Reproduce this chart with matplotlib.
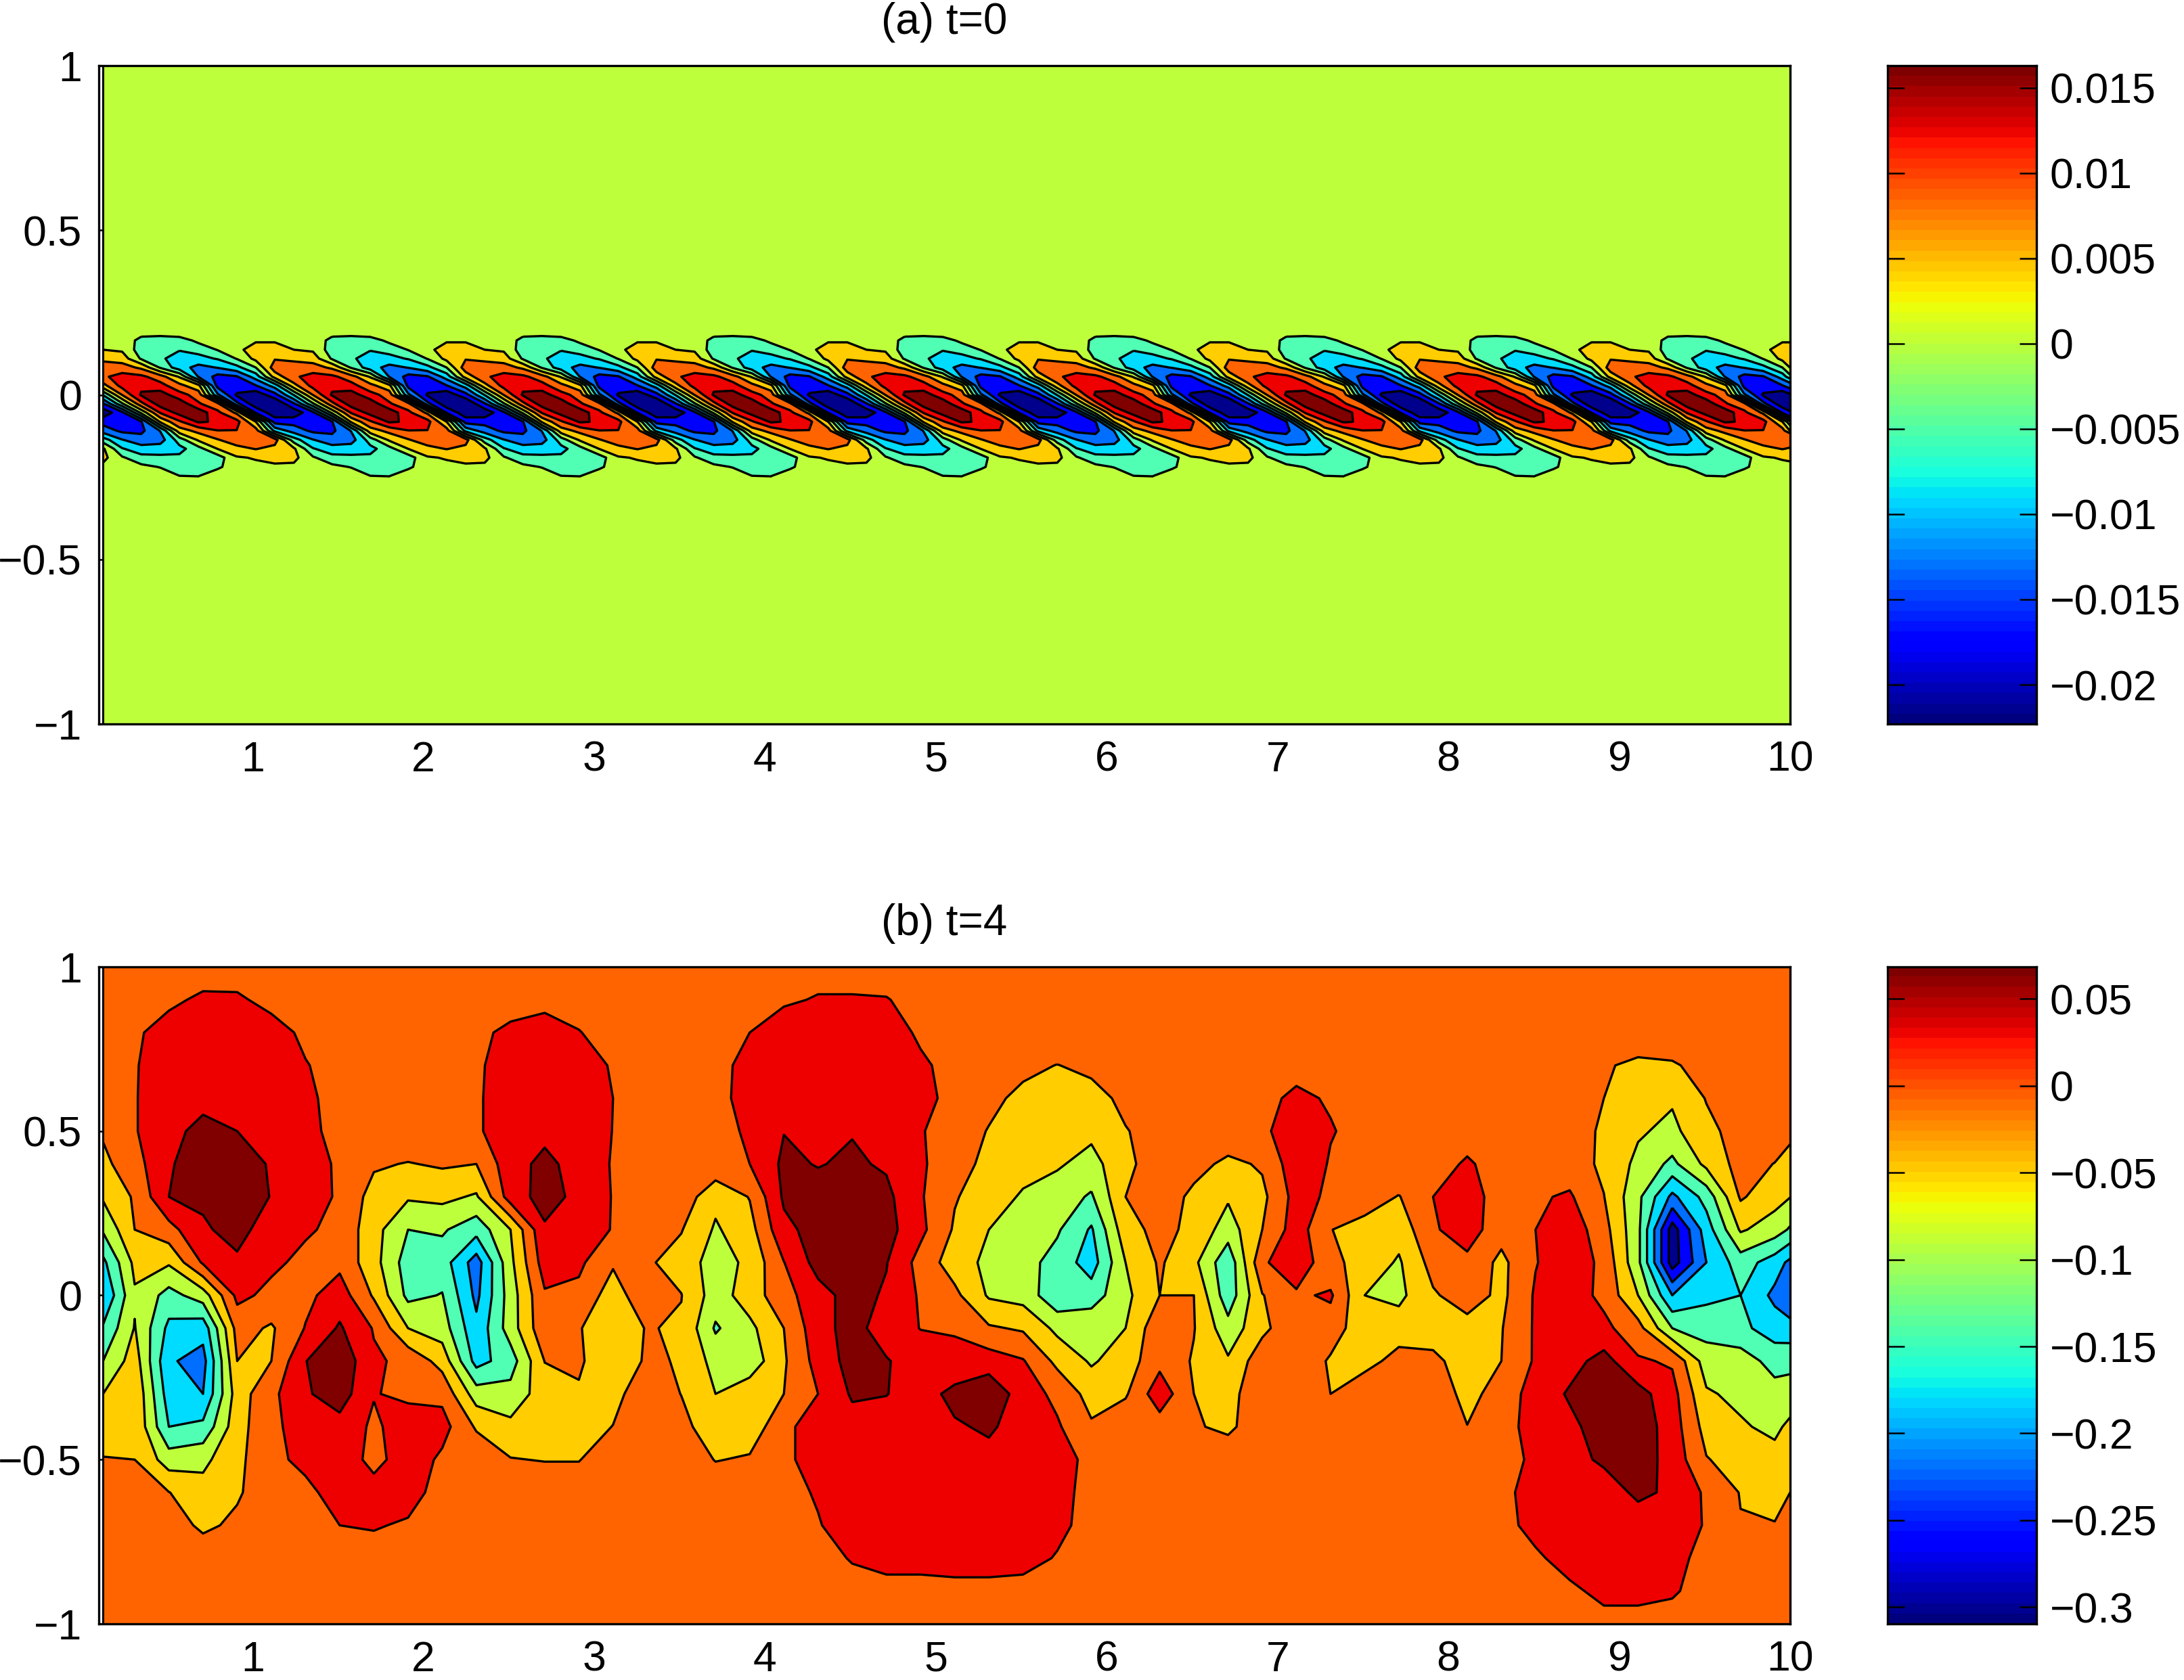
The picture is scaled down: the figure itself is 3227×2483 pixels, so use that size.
import numpy as np
import matplotlib
matplotlib.use("Agg")
import matplotlib.pyplot as plt

plt.rcParams['font.family'] = ['Liberation Sans', 'DejaVu Sans']

# band colours shared by both panels, lowest band first
band_colors = ['#00008c', '#0000ff', '#006eff', '#00dcff', '#50ffb4',
               '#beff3c', '#ffcd00', '#ff6400', '#ee0000', '#800000']

# panel (a): one wave of the pattern, repeated along x (values in 0.001)
levels_a = [-18.4, -14.6, -10.7, -6.8, -3.0, 0.9, 4.8, 8.6, 12.5]
period_a = 1.117
repeats_a = 9
rows_y_a = [0.192, 0.165, 0.137, 0.110, 0.083, 0.055, 0.028, 0.0, -0.027,
            -0.054, -0.082, -0.109, -0.137, -0.164, -0.191, -0.219, -0.246]
wave_a = [
    [0, 0, -1, -1, 0, 0, 0, 0, 0, 0],
    [0, 0, -4.5, -5, -5, -2, 0, 0, .5, .5],
    [.9, .3, -5, -6, -6.5, -5.5, -2.8, 0, 2.5, 2.5],
    [4, 3, -3.5, -6, -9, -8, -6.5, -2.8, 2, 4.5],
    [6.5, 6.5, 4, -3.5, -9, -12, -10.5, -8, -3, 7],
    [8, 10, 9.5, 6.5, .5, -11, -16, -15, -9, 2.5],
    [3.5, 10, 11.5, 10, 6, 2, -16, -16, -14.8, -9],
    [-6.5, 5, 13, 14.5, 10, 7, -10, -19, -21, -16],
    [-15, -3.5, 7.5, 14.5, 15, 9, 6, -13.5, -21, -22],
    [-21, -15.5, -2, 9, 14, 15, 9.5, 4, -15, -21],
    [-16, -17, -15, 1.5, 8, 13, 12, 10, 1, -16],
    [-12.5, -15.5, -15.5, -10.5, 3, 6, 8.5, 8.5, 6.5, -8],
    [-5, -10.5, -13, -12.5, -5, 1.5, 4.5, 7, 6.5, 6.5],
    [1.5, -6.5, -9, -8.5, -8, -4.5, 1, 3.5, 5, 3.5],
    [2, -2.5, -5.5, -6, -6, -4.5, -5, .5, 1.2, 2.5],
    [0, 0, -2, -3.2, -4.5, -4, -4, 0, 0, 0],
    [0, 0, 0, -1, -3, -3.2, 0, 0, 0, 0],
]

# panel (b): values in 0.01, rows from y=0.9 down to y=-0.9
levels_b = [-27, -23, -19, -15, -11, -7, -3, 1, 5]
rows_y_b = [0.9, 0.8, 0.7, 0.6, 0.5, 0.4, 0.3, 0.2, 0.1, 0.0,
            -0.1, -0.2, -0.3, -0.4, -0.5, -0.6, -0.7, -0.8, -0.9]
field_b = [
    [0, 0, .6, 1.35, 1.3, .4, 0, 0, 0, 0, 0, 0, 0, 0, 0, 0, 0,
     0, 0, 0, .6, 1.2, 1.2, 1.1, .3, 0, 0, 0, 0, 0, 0, 0, 0, 0,
     0, 0, 0, 0, 0, 0, 0, 0, 0, 0, 0, 0, 0, 0, 0, 0, 0],
    [0, .7, 1.8, 3, 3, 1.8, .6, 0, 0, 0, 0, .5, 1.5, 2.5, 1.1, 0, 0,
     0, .3, 1, 2.5, 3, 3, 2.2, .6, 0, 0, 0, 0, 0, 0, 0, 0, 0,
     0, 0, 0, 0, 0, 0, 0, 0, 0, 0, 0, 0, 0, 0, 0, 0, 0],
    [0, .8, 2.5, 3.5, 3.5, 3, 1.1, .3, 0, 0, 0, .5, 2.5, 3, 2.5, .7, 0,
     0, .5, 1.5, 3, 3.5, 3.5, 3, 1.4, .2, 0, -2, -3.1, -2, 0, 0, 0, 0,
     0, 0, 0, 0, 0, 0, 0, 0, 0, 0, -2.5, -4, -3.5, -1.5, 0, 0, 0],
    [0, .8, 3, 4, 4, 3.5, 1.4, .3, 0, 0, 0, .5, 3, 3.5, 3, 1, .2,
     0, .5, 1.6, 3.5, 4, 4, 3.5, 1.7, .3, -2, -4, -5, -4.5, -2, 0, 0, 0,
     .2, 1.6, .7, 0, 0, 0, 0, 0, 0, -1, -3, -6, -6.5, -2.8, -1, 0, 0],
    [-2.5, .7, 4, 6, 5, 4, 1.6, .3, 0, 0, 0, .5, 3, 4, 4, .9, 0,
     0, .3, 1.3, 4.9, 4.8, 4.8, 4.8, 1.3, -1, -3.2, -5, -5.5, -6, -3.2, -1.5, 0, 0,
     .3, 3, 1.2, 0, 0, 0, 0, 0, 0, -1.5, -3.5, -6.5, -8, -4, -1.5, -.8, -2],
    [-4, -.5, 4.5, 7.5, 7.5, 4.5, 2.5, .5, -2.5, -3.2, -2.5, -3, 3.5, 6, 3.5, .7, 0,
     0, 0, 1, 5.8, 4.8, 5.6, 4.5, 1.6, -1.5, -4, -5.5, -6.5, -8.5, -4, -.8, -1.5, -4,
     -2.5, 3.5, .7, 0, 0, 0, 1.3, 0, 0, -1, -3.8, -8, -12, -6, -1.5, -3.1, -4.5],
    [-6.5, -2.5, 5, 5.5, 8, 4.8, 3.5, .3, -4.5, -6.5, -6, -7.5, 3, 6.5, 4, .8, 0,
     -.5, -6, -2.8, 5.6, 6.5, 6.5, 6, 1.4, -2.7, -5, -7.5, -9, -11.5, -3, -.5, -4, -6.5,
     -4, 2.5, .3, -1, -3.2, 1, 3.5, -1.5, .5, 1.5, -2.9, -10, -20, -13.5, -2.5, -5.5, -6.9],
    [-10.5, -3, -.5, 4.6, 6, 3.5, 1.5, 0, -5.5, -11, -10.5, -13.5, -7, 4.5, 4, .7, -2.5,
     -2.8, -7.5, -4.5, 4, 6.5, 7, 6.5, 2, -3.5, -7, -8.5, -10.5, -15.5, -4.5, -1.8, -4, -9,
     -3, 3, -2.9, -4.5, -5.5, .5, 3, -1.5, 1, 3.5, -1.5, -10, -29, -17, -6.5, -9, -11.5],
    [-16, -6, -6.5, 1.5, 4.5, 1.8, 0, 0, -5.5, -13, -13, -21, -8, 3, 1.8, -2.5, -2.5,
     -4.5, -9, -6, .9, 6.5, 8, 5.2, -.5, -5, -8, -9.5, -12.5, -17, -7, -2.5, -6, -14,
     .3, 4, -2, -4.5, -7.5, -1.5, 0, -4, .8, 3.5, 0, -10, -29, -19, -13, -17, -20],
    [-19, -7.5, -12.5, -9, 2, 0, 0, 3, -3.5, -12, -10.8, -20, -9, .5, 0, -5, 0,
     -2.9, -9, -5, -.5, 3.5, 6.5, 4.5, .5, -2, -7.5, -8.5, -14, -13, -8, -3, -3, -13.5,
     -3.2, .3, 1.6, -7, -8, -3.5, -1, -4, 1.5, 3, 0, -7, -19, -16, -15, -20, -22.5],
    [-14.5, -6.8, -16, -17.5, -1.5, -3.5, 1.2, 5.5, .7, -7, -9, -18, -9, 0, -2.8, -5, -2.8,
     -3.4, -11.5, -8, -3, 3.5, 6.5, 3, .9, .5, -2.5, -3.5, -8, -8, -7, 0, -2.8, -9.5,
     -4, 0, -1, -5.5, -5, -4, -4.5, -3.2, 1.5, 2.5, 2, -1.5, -11, -12.5, -14, -17, -17.5],
    [-11, -5, -18.5, -20.5, -3, -3, 4.9, 8, 1.6, 0, -4.5, -16.5, -13, -2.9, -2.6, -5, -2.6,
     -3.2, -8.5, -9.5, -3.5, 2.5, 6.5, 5.3, 3, 2.5, 3, 1.3, -4, -7.5, -5, -.2, -3.4, -6.5,
     -.5, 0, -3.5, -4.5, -1.5, -2.5, -4, -3, 1.5, 3.5, 6.5, 1.5, .5, -9, -9, -12.5, -12],
    [-7, -3.5, -17, -19, -5, 0, 4.5, 7, 1.2, .2, 0, -9, -9.5, -5, -3.3, -4.5, 0,
     -3.1, -7, -4.5, -3, 1, 5.5, 5.1, 3.5, 6, 8, 3, 0, -4.5, -3.5, 3.5, -3, -4.5,
     0, 0, -3, 0, 0, 0, -4.5, -1, 2.5, 5.5, 7.5, 6.5, 2.5, -6.5, -8, -9.5, -9.5],
    [-5, -3.5, -15, -14, -4.5, 0, 3, 3.5, .3, 3, 2.5, -3.5, -6, -5.5, -5, -2.9, 0,
     -1.5, -6, -5.5, 0, 3, 3.5, 3.5, 3.5, 4.6, 5.5, 3.5, 1.5, -2.5, 0, -1, -2.5, -4,
     0, 0, 0, 0, 0, 0, -2.9, 0, 2, 4, 7, 7.5, 3, -4.5, -6.5, -8, -6],
    [-2.8, -3, -9, -8, -4, 0, 2, 4, -.5, 3.5, .2, 0, -2.8, -3.2, -3.2, 0, 0,
     0, -3.2, -2.5, 0, 3, 3.5, 4, 4, 3.5, 4, 3.5, 2.5, 0, 0, 0, -.5, 0,
     0, 0, 0, 0, 0, 0, 0, 0, 1.5, 4, 5.5, 7, 3.5, -2.8, -4.5, -5.5, -5],
    [0, 0, -2.9, -5.5, -3.6, 0, 0, 2.7, 3, 2, 0, 0, 0, 0, 0, 0, 0,
     0, 0, 0, 0, 1.3, 3, 3.5, 3.5, 3.5, 3.5, 3, 2, 0, 0, 0, 0, 0,
     0, 0, 0, 0, 0, 0, 0, 0, 2.5, 3.5, 3.5, 5.6, 4.5, .3, -3.2, -4.5, -3],
    [0, 0, -.5, -4, -2, 0, 0, 1, 1.2, .7, 0, 0, 0, 0, 0, 0, 0,
     0, 0, 0, 0, .8, 2.5, 3, 3.5, 3.5, 3.5, 2.5, 1.7, 0, 0, 0, 0, 0,
     0, 0, 0, 0, 0, 0, 0, 0, 2, 3, 3, 3.5, 3, .7, -2.8, -2.8, -.5],
    [0, 0, 0, 0, 0, 0, 0, 0, 0, 0, 0, 0, 0, 0, 0, 0, 0,
     0, 0, 0, 0, 0, 1.2, 2, 2, 2.4, 2.4, 2, .8, 0, 0, 0, 0, 0,
     0, 0, 0, 0, 0, 0, 0, 0, .5, 2.2, 2.5, 2.5, 2, 0, 0, 0, 0],
    [0, 0, 0, 0, 0, 0, 0, 0, 0, 0, 0, 0, 0, 0, 0, 0, 0,
     0, 0, 0, 0, 0, 0, 0, 0, 0, 0, 0, 0, 0, 0, 0, 0, 0,
     0, 0, 0, 0, 0, 0, 0, 0, 0, .4, 1.8, 1.8, 1.3, 0, 0, 0, 0],
]

# axis and colorbar text
x_ticks = [1, 2, 3, 4, 5, 6, 7, 8, 9, 10]
y_ticks = [-1, -0.5, 0, 0.5, 1]
y_labels = ['\u22121', '\u22120.5', '0', '0.5', '1']
cbar_ticks_a = [-0.02, -0.015, -0.01, -0.005, 0, 0.005, 0.01, 0.015]
cbar_labels_a = ['\u22120.02', '\u22120.015', '\u22120.01', '\u22120.005', '0', '0.005', '0.01', '0.015']
cbar_ticks_b = [-0.3, -0.25, -0.2, -0.15, -0.1, -0.05, 0, 0.05]
cbar_labels_b = ['\u22120.3', '\u22120.25', '\u22120.2', '\u22120.15', '\u22120.1', '\u22120.05', '0', '0.05']
cbar_range_a = (-0.0223, 0.0163)
cbar_range_b = (-0.3096, 0.0684)

W, H = 3227, 2483
fig = plt.figure(figsize=(W / 200, H / 200), dpi=200)


def add_axes_px(x0, x1, y0, y1):
    return fig.add_axes([x0 / W, 1 - y1 / H, (x1 - x0) / W, (y1 - y0) / H])


def draw_panel(ax, x, y, z, levels, title):
    # the outer edges only close the first and last colour band
    edges = [z.min() - 1] + list(levels) + [z.max() + 1]
    ax.contourf(x, y, z, levels=edges, colors=band_colors, zorder=1)
    ax.contour(x, y, z, levels=levels, colors='k', linewidths=1.2,
               linestyles='solid', zorder=1.5)
    # the filled area starts a little right of the axis line
    ax.axvline(x[0], color='k', lw=1.1, zorder=1.6)
    ax.set_xlim(0.1, 10)
    ax.set_ylim(-1, 1)
    ax.set_axisbelow(True)
    ax.set_xticks(x_ticks)
    ax.set_yticks(y_ticks)
    ax.set_yticklabels(y_labels)
    ax.tick_params(direction='in', top=True, right=True, length=9, width=0.9,
                   labelsize=22.5)
    ax.tick_params(axis='x', pad=8.5)
    ax.tick_params(axis='y', pad=9)
    ax.set_title(title, fontsize=23, pad=17)
    for s in ax.spines.values():
        s.set_linewidth(1.2)


def draw_cbar(ax, vrange, ticks, labels):
    grad = np.linspace(vrange[0], vrange[1], 64)[:, None]
    ax.imshow(grad, cmap=plt.get_cmap('jet', 64), origin='lower', aspect='auto',
              extent=[0, 1, vrange[0], vrange[1]])
    ax.set_xticks([])
    ax.set_yticks(ticks)
    ax.set_yticklabels(labels)
    ax.yaxis.tick_right()
    ax.tick_params(direction='in', left=True, right=True, length=9, width=0.9,
                   labelsize=22.5, pad=7)
    for s in ax.spines.values():
        s.set_linewidth(1.2)


# panel (a)
wave = np.tile(np.array(wave_a), (1, repeats_a))
x_a = 0.125 + np.arange(wave.shape[1]) * period_a / 10
y_a = np.r_[1, 0.22, rows_y_a, -0.274, -1]
pad_a = np.zeros((2, wave.shape[1]))
z_a = np.vstack([pad_a, wave, pad_a])
ax_a = add_axes_px(146, 2645, 97, 1070)
draw_panel(ax_a, x_a, y_a, z_a, levels_a, '(a) t=0')

# panel (b)
x_b = np.r_[0.125, 0.31 + 0.2 * np.arange(49), 10]
y_b = np.r_[1, rows_y_b, -1]
pad_b = np.zeros((1, len(x_b)))
z_b = np.vstack([pad_b, np.array(field_b), pad_b])
ax_b = add_axes_px(146, 2645, 1429, 2400)
draw_panel(ax_b, x_b, y_b, z_b, levels_b, '(b) t=4')

# colorbars
draw_cbar(add_axes_px(2789, 3009, 97, 1070), cbar_range_a, cbar_ticks_a, cbar_labels_a)
draw_cbar(add_axes_px(2789, 3009, 1429, 2400), cbar_range_b, cbar_ticks_b, cbar_labels_b)

plt.savefig('out.png', dpi=200)
plt.close()
